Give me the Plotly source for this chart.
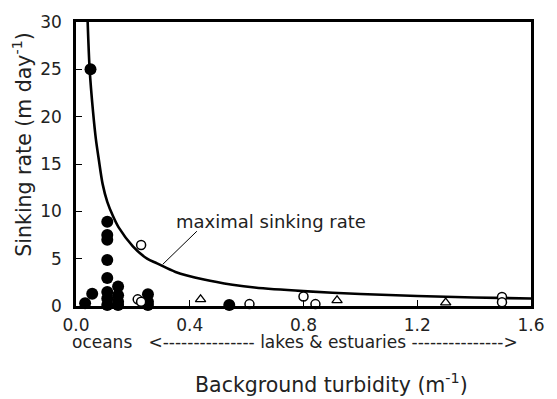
import plotly.graph_objects as go

# Filled circles (oceans etc.)
filled_x = [0.051, 0.057, 0.032,
            0.110, 0.110, 0.110, 0.110, 0.110, 0.110, 0.110, 0.110,
            0.148, 0.148, 0.148, 0.148,
            0.253, 0.253, 0.253, 0.539]
filled_y = [25.0, 1.3, 0.28,
            8.9, 7.5, 7.0, 4.85, 2.95, 1.47, 0.8, 0.1,
            2.05, 1.13, 0.45, 0.1,
            1.23, 0.45, 0.1, 0.1]

# Open circles
open_x = [0.229, 0.217, 0.229, 0.61, 0.80, 0.842, 1.498, 1.498]
open_y = [6.45, 0.7, 0.45, 0.2, 1.0, 0.2, 0.95, 0.4]
open_stem = [0, 0, 0, 0, 1.0, 0, 0, 0]

# Open triangles
tri_x = [0.438, 0.918, 1.30]
tri_y = [0.7, 0.6, 0.35]

# Maximal sinking rate curve
curve_x = [0.041, 0.048, 0.06, 0.07, 0.08, 0.0935, 0.11, 0.13, 0.15, 0.2, 0.25,
           0.285, 0.35, 0.45, 0.55, 0.628, 0.8, 1.0, 1.2, 1.4, 1.6]
curve_y = [30.0, 25.0, 20.5, 17.6, 15.5, 12.9, 11.0, 9.5, 8.3, 6.3, 5.0,
           4.5, 3.6, 2.8, 2.25, 1.95, 1.57, 1.27, 1.06, 0.9, 0.79]

x_ticks = [0.0, 0.4, 0.8, 1.2, 1.6]
x_tick_labels = ["0.0", "0.4", "0.8", "1.2", "1.6"]
y_ticks = [0, 5, 10, 15, 20, 25, 30]

FONT = "DejaVu Sans"
fig = go.Figure()

fig.add_trace(go.Scatter(x=curve_x, y=curve_y, mode="lines",
                         line=dict(color="black", width=2.6, shape="spline", smoothing=0.8),
                         hoverinfo="skip", showlegend=False))

fig.add_trace(go.Scatter(x=filled_x, y=filled_y, mode="markers",
                         marker=dict(symbol="circle", size=12, color="black"),
                         cliponaxis=False, showlegend=False))

fig.add_trace(go.Scatter(x=open_x, y=open_y, mode="markers",
                         marker=dict(symbol="circle", size=9, color="white",
                                     line=dict(color="black", width=1.5)),
                         error_y=dict(type="data", symmetric=False,
                                      array=[0] * len(open_x), arrayminus=open_stem,
                                      color="black", thickness=1, width=0),
                         cliponaxis=False, showlegend=False))

fig.add_trace(go.Scatter(x=tri_x, y=tri_y, mode="markers",
                         marker=dict(symbol="triangle-up-open", size=9, color="black",
                                     line=dict(color="black", width=1.3)),
                         cliponaxis=False, showlegend=False))

# leader line for curve label
fig.add_shape(type="line", x0=0.425, y0=7.9, x1=0.305, y1=4.4,
              line=dict(color="black", width=1))

fig.add_annotation(x=0.345, y=8.9, xref="x", yref="y", text="maximal sinking rate",
                   showarrow=False, xanchor="left", yanchor="middle",
                   font=dict(family=FONT, size=18, color="#222"))

fig.add_annotation(x=0.4807, y=0, xref="paper", yref="paper", yshift=-35.5,
                   text="oceans&nbsp;&nbsp;&nbsp;&lt;--------------- lakes &amp; estuaries ---------------&gt;",
                   showarrow=False, xanchor="center", yanchor="middle",
                   font=dict(family=FONT, size=17, color="#222"))

fig.add_annotation(x=0.562, y=0, xref="paper", yref="paper", yshift=-77,
                   text="Background turbidity (m<sup>-1</sup>)",
                   showarrow=False, xanchor="center", yanchor="middle",
                   font=dict(family=FONT, size=20.5, color="#222"))

fig.add_annotation(x=0, y=0.568, xref="paper", yref="paper", xshift=-53,
                   text="Sinking rate (m day<sup>-1</sup>)", textangle=-90,
                   showarrow=False, xanchor="center", yanchor="middle",
                   font=dict(family=FONT, size=20.5, color="#222"))

fig.update_xaxes(range=[0, 1.6], tickvals=x_ticks, ticktext=x_tick_labels,
                 ticks="inside", ticklen=6, tickwidth=1.2, tickcolor="black",
                 showline=True, linecolor="black", linewidth=2.5, mirror=True,
                 showgrid=False, zeroline=False, ticklabelstandoff=2,
                 tickfont=dict(family=FONT, size=17, color="#222"))
fig.update_yaxes(range=[0, 30], tickvals=y_ticks,
                 ticks="inside", ticklen=6, tickwidth=1.2, tickcolor="black",
                 showline=True, linecolor="black", linewidth=2.5, mirror=True,
                 showgrid=False, zeroline=False, ticklabelstandoff=8,
                 tickfont=dict(family=FONT, size=17, color="#222"))

fig.update_layout(width=557, height=399, margin=dict(l=76, r=14, t=14, b=93),
                  paper_bgcolor="white", plot_bgcolor="white", showlegend=False)

fig.write_html("out.html", config={"displayModeBar": False},
               post_script="document.body.style.margin='0';document.body.style.padding='0';")
